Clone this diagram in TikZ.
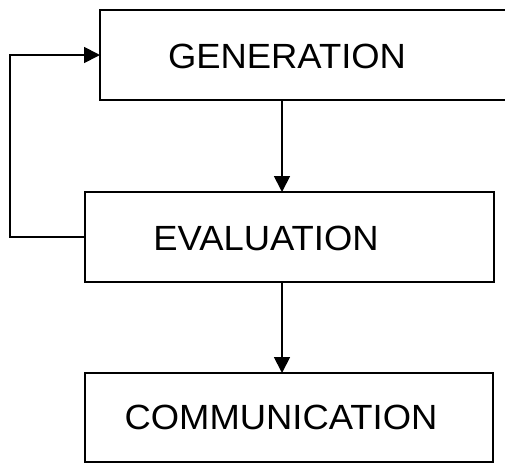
\documentclass[tikz,border=0pt]{standalone}
\usepackage{fontspec}
\setmainfont{Liberation Sans}
\usetikzlibrary{arrows.meta}
\begin{document}
\begin{tikzpicture}[x=1pt,y=-1pt,
  box/.style={draw=black, line width=2.2pt, rectangle, inner sep=0pt, outer sep=0pt},
  lbl/.style={inner sep=0pt, font=\fontsize{35}{40}\selectfont},
  arr/.style={line width=1.8pt, -{Triangle[length=16pt,width=16pt]}},
  ln/.style={line width=1.8pt}]
\useasboundingbox (0,0) rectangle (505,463);
\clip (0,0) rectangle (505,463);
\node[box, minimum width=410pt, minimum height=90pt] (gen) at (305,55) {};
\node[lbl] (gent) at (287,56) {\scalebox{1.04}[1]{GENERATION}};
\node[box, minimum width=409pt, minimum height=90pt] (eval) at (289.5,237) {};
\node[lbl] (evalt) at (266,238) {\scalebox{1.04}[1]{EVALUATION}};
\node[box, minimum width=408pt, minimum height=89pt] (comm) at (289,417.5) {};
\node[lbl] (commt) at (281,417) {\scalebox{1.04}[1]{COMMUNICATION}};
\coordinate (ax) at (282,0);
\coordinate (fb) at (10,237);
\draw[arr] (gen.south -| ax) -- (eval.north -| ax);
\draw[arr] (eval.south -| ax) -- (comm.north -| ax);
\draw[arr] (eval.west) -- (fb) |- (gen.west);
\end{tikzpicture}
\end{document}
